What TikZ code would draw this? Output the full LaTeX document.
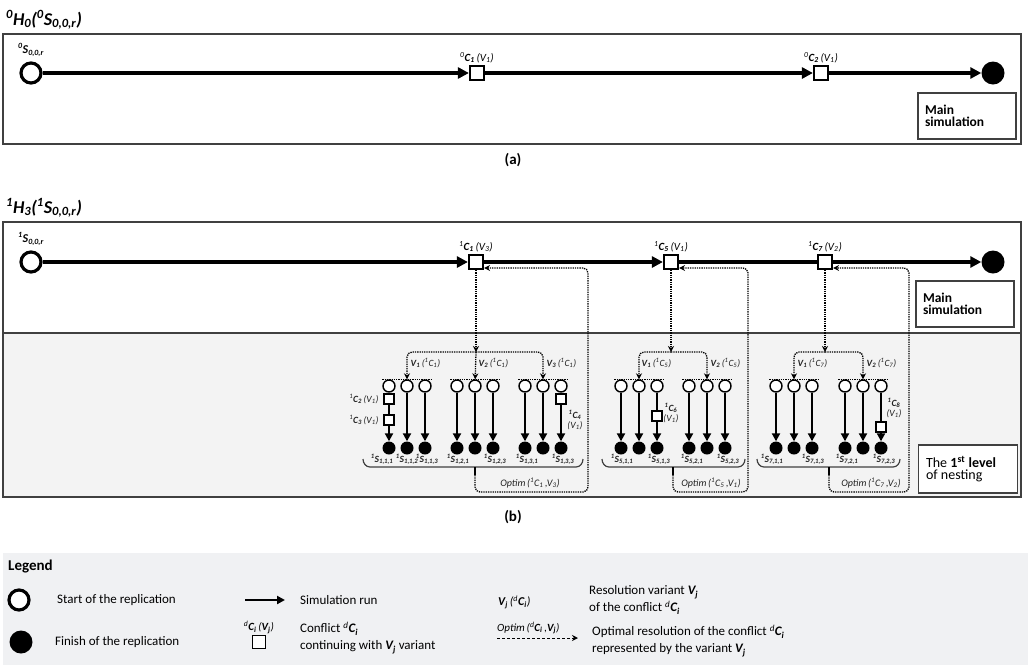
\documentclass[tikz,border=0pt]{standalone}
\usepackage{fontspec}
\setmainfont{Carlito}
\usetikzlibrary{arrows.meta, positioning, calc}
\definecolor{marco}{HTML}{404040}
\definecolor{fondoanid}{HTML}{F3F3F3}
\definecolor{fondoley}{HTML}{F0F1F3}
\definecolor{gristexto}{HTML}{222222}
\newcommand{\conf}[3]{\textsuperscript{#1}\textbf{C\textsubscript{#2}}\,(V\textsubscript{#3})}
\newcommand{\repl}[4]{\textbf{\textsuperscript{#1}S\textsubscript{#2,#3,#4}}}
\newcommand{\vari}[2]{\textbf{V\textsubscript{#1}}\,(\textsuperscript{1}C\textsubscript{#2})}
\newcommand{\optres}[2]{Optim\,(\textsuperscript{1}C\textsubscript{#1}\,,V\textsubscript{#2})}
\tikzset{
  inicio/.style={circle, draw=black, line width=3.2pt, fill=white, minimum size=20pt, inner sep=0pt},
  fin/.style={circle, fill=black, minimum size=23pt, inner sep=0pt},
  conflicto/.style={rectangle, draw=black, line width=2.2pt, fill=white, minimum size=14pt, inner sep=0pt},
  inicioc/.style={circle, draw=black, line width=1.4pt, fill=white, minimum size=12pt, inner sep=0pt},
  finc/.style={circle, fill=black, minimum size=13pt, inner sep=0pt},
  conflictoc/.style={rectangle, draw=black, line width=1.4pt, fill=white, minimum size=10pt, inner sep=0pt},
  corrida/.style={line width=3.4pt, -{Triangle[length=11pt, width=11pt]}},
  corridac/.style={line width=2.5pt, -{Triangle[length=8pt, width=8pt]}},
  tramo/.style={line width=2.5pt},
  punteada/.style={densely dotted, line width=1.3pt},
  optim/.style={densely dotted, line width=1.3pt, -{Stealth[length=6pt, width=6pt]}, rounded corners=5pt},
  llave/.style={line width=1.2pt, draw=marco},
  marcor/.style={draw=marco, line width=1.5pt},
  caja/.style={rectangle, draw=marco, line width=1.3pt, fill=white, align=left, text width=84pt,
               minimum width=98pt, minimum height=46pt, inner sep=6pt},
  etiqg/.style={font=\fontsize{12}{13}\selectfont\itshape, inner sep=1pt},
  etiq/.style={font=\fontsize{11}{12}\selectfont\itshape, inner sep=1pt},
  etiqc/.style={font=\fontsize{9.5}{10.5}\selectfont\itshape, inner sep=0.5pt, text=gristexto},
  ley/.style={font=\fontsize{13}{17}\selectfont, align=left, anchor=west, inner sep=0pt},
  titulo/.style={font=\fontsize{18}{20}\selectfont\bfseries\itshape, anchor=west, inner sep=0pt},
  panel/.style={font=\fontsize{15}{17}\selectfont\bfseries}
}
\begin{document}
\begin{tikzpicture}[x=1pt, y=-1pt]
  \useasboundingbox (0,0) rectangle (1028,665);
  % (a)
  \node (tita) [titulo] at (6,20) {\textsuperscript{0}H\textsubscript{0}(\textsuperscript{0}S\textsubscript{0,0,r})};
  \draw [marcor] (3,34) rectangle (1021,144);
  \node (s0a) [inicio] at (31,73) {};
  \node (c1a) [conflicto] at (477,73) {};
  \node (c2a) [conflicto] at (821,73) {};
  \node (fa) [fin] at (993,73) {};
  \draw [corrida] (s0a) -- (c1a); \draw [corrida] (c1a) -- (c2a); \draw [corrida] (c2a) -- (fa);
  \node [etiqg, above=4pt of s0a] {\textbf{\textsuperscript{0}S\textsubscript{0,0,r}}};
  \node [etiq, above=1pt of c1a] {\conf{0}{1}{1}};
  \node [etiq, above=1pt of c2a] {\conf{0}{2}{1}};
  \node (mainA) [caja] at (967,116) {\fontsize{13.5}{17}\selectfont\bfseries Main\\ simulation};
  \node (pa) [panel] at (513,160) {(a)};
  % (b)
  \node (titb) [titulo] at (6,208) {\textsuperscript{1}H\textsubscript{3}(\textsuperscript{1}S\textsubscript{0,0,r})};
  \fill [fondoanid] (3,333) rectangle (1021,497);
  \draw [marcor] (3,333) -- (1021,333);
  \draw [marcor] (3,222) rectangle (1021,497);
  \node (s0b) [inicio] at (31,262) {};
  \node (c1b) [conflicto] at (476,262) {};
  \node (c5b) [conflicto] at (671,262) {};
  \node (c7b) [conflicto] at (825,262) {};
  \node (fb) [fin] at (993,262) {};
  \draw [corrida] (s0b) -- (c1b); \draw [corrida] (c1b) -- (c5b); \draw [line width=3.4pt] (c5b) -- (c7b); \draw [corrida] (c7b) -- (fb);
  \node [etiqg, above=4pt of s0b] {\textbf{\textsuperscript{1}S\textsubscript{0,0,r}}};
  \node [etiq, above=1pt of c1b] {\conf{1}{1}{3}};
  \node [etiq, above=1pt of c5b] {\conf{1}{5}{1}};
  \node [etiq, above=1pt of c7b] {\conf{1}{7}{2}};
  \node (mainB) [caja] at (965,304) {\fontsize{13.5}{17}\selectfont\bfseries Main\\ simulation};
  \node (nivel) [caja, minimum width=99pt, minimum height=48pt] at (968,469)
        {\fontsize{14}{17}\selectfont The \textbf{1\textsuperscript{st} level}\\ of nesting};
  % replicas anidadas
  \foreach \x/\i/\j/\k in {389/1/1/1, 407/1/1/2, 425/1/1/3, 457/1/2/1, 475/1/2/2, 493/1/2/3,
                           525/1/3/1, 543/1/3/2, 561/1/3/3, 621/5/1/1, 639/5/1/2, 657/5/1/3,
                           689/5/2/1, 707/5/2/2, 725/5/2/3, 776/7/1/1, 794/7/1/2, 812/7/1/3,
                           845/7/2/1, 863/7/2/2, 881/7/2/3} {
    \node (ini\i\j\k) [inicioc] at (\x,386) {};
    \node (fin\i\j\k) [finc] at (\x,448) {};
  }
  \foreach \n in {112, 113, 121, 122, 123, 131, 132, 511, 512, 521, 522, 523, 711, 712, 713, 721, 722}
    \draw [corridac] (ini\n) -- (fin\n);
  \foreach \g in {11, 12, 13, 51, 52, 71, 72}
    \draw [punteada] (ini\g1.west |- ini\g1.north) -- (ini\g3.east |- ini\g3.north);
  \foreach \i/\j/\k/\dx in {1/1/1/-7, 1/1/2/0, 1/1/3/2, 1/2/1/1, 1/2/3/2, 1/3/1/2, 1/3/3/2,
                            5/1/1/1, 5/1/3/2, 5/2/1/3, 5/2/3/3, 7/1/1/-4, 7/1/3/1, 7/2/1/2, 7/2/3/3}
    \node [etiqc] at ($(fin\i\j\k)+(\dx,11)$) {\repl{1}{\i}{\j}{\k}};
  % conflictos anidados
  \node (q2) [conflictoc] at (389,399) {};
  \node (q3) [conflictoc] at (389,420) {};
  \draw [tramo] (ini111) -- (q2); \draw [tramo] (q2) -- (q3); \draw [corridac] (q3) -- (fin111);
  \node [etiqc, left=4pt of q2] {\conf{1}{2}{1}};
  \node [etiqc, left=4pt of q3] {\conf{1}{3}{1}};
  \node (q4) [conflictoc] at (561,399) {};
  \draw [tramo] (ini133) -- (q4); \draw [corridac] (q4) -- (fin133);
  \node [etiqc, align=center] at (575,420) {\textbf{\textsuperscript{1}C\textsubscript{4}}\\(V\textsubscript{1})};
  \node (q6) [conflictoc] at (657,416) {};
  \draw [tramo] (ini513) -- (q6); \draw [corridac] (q6) -- (fin513);
  \node [etiqc, align=center] at (671,413) {\textbf{\textsuperscript{1}C\textsubscript{6}}\\(V\textsubscript{1})};
  \node (q8) [conflictoc] at (881,427) {};
  \draw [tramo] (ini723) -- (q8); \draw [corridac] (q8) -- (fin723);
  \node [etiqc, align=center] at (894,408) {\textbf{\textsuperscript{1}C\textsubscript{8}}\\(V\textsubscript{1})};
  % variantes
  \coordinate (k1) at (476,352);
  \coordinate (k5) at (671,352);
  \coordinate (k7) at (825,352);
  \draw [optim] (c1b) -- (k1);
  \draw [optim] (k1) -| (ini112); \draw [optim] (k1) -- (ini122); \draw [optim] (k1) -| (ini132);
  \draw [optim] (c5b) -- (k5);
  \draw [optim] (k5) -| (ini512); \draw [optim] (k5) -| (ini522);
  \draw [optim] (c7b) -- (k7);
  \draw [optim] (k7) -| (ini712); \draw [optim] (k7) -| (ini722);
  \node [etiqc, anchor=west] at (410,363) {\vari{1}{1}};
  \node [etiqc, anchor=west] at (478,363) {\vari{2}{1}};
  \node [etiqc, anchor=west] at (546,363) {\vari{3}{1}};
  \node [etiqc, anchor=west] at (641,363) {\vari{1}{5}};
  \node [etiqc, anchor=west] at (710,363) {\vari{2}{5}};
  \node [etiqc, anchor=west] at (797,363) {\vari{1}{7}};
  \node [etiqc, anchor=west] at (866,363) {\vari{2}{7}};
  % llaves y optimos
  \draw [llave] (363,459) to[out=-90,in=180] (370,467) -- (576,467) to[out=0,in=-90] (583,459);
  \draw [llave] (602,459) to[out=-90,in=180] (609,467) -- (738,467) to[out=0,in=-90] (745,459);
  \draw [llave] (757,459) to[out=-90,in=180] (764,467) -- (893,467) to[out=0,in=-90] (900,459);
  \coordinate (t1) at (475,467); \coordinate (r1) at (588,268);
  \coordinate (t5) at (673,467); \coordinate (r5) at (748,268);
  \coordinate (t7) at (829,467); \coordinate (r7) at (909,268);
  \draw [line width=2pt] (t1) -- ++(0,8) coordinate (t1b);
  \draw [line width=2pt] (t5) -- ++(0,8) coordinate (t5b);
  \draw [line width=2pt] (t7) -- ++(0,8) coordinate (t7b);
  \draw [optim] (t1b) |- (r1 |- 0,492) -- (r1) -- (r1 -| c1b.east);
  \draw [optim] (t5b) |- (r5 |- 0,492) -- (r5) -- (r5 -| c5b.east);
  \draw [optim] (t7b) |- (r7 |- 0,492) -- (r7) -- (r7 -| c7b.east);
  \node [etiqc, font=\fontsize{10}{11}\selectfont\itshape] at (530,483) {\optres{1}{3}};
  \node [etiqc, font=\fontsize{10}{11}\selectfont\itshape] at (711,483) {\optres{5}{1}};
  \node [etiqc, font=\fontsize{10}{11}\selectfont\itshape] at (871,483) {\optres{7}{2}};
  \node (pb) [panel] at (513,517) {(b)};
  % leyenda
  \fill [fondoley] (3,553) rectangle (1028,665);
  \node (tley) [ley, font=\fontsize{15}{17}\selectfont\bfseries] at (8,566) {Legend};
  \node (lini) [inicio] at (19,600) {};
  \node [ley] at (57,600) {Start of the replication};
  \node (lfin) [fin] at (21,642) {};
  \node [ley] at (55,642) {Finish of the replication};
  \coordinate (la1) at (245,600); \coordinate (la2) at (285,600);
  \draw [line width=2.2pt, -{Triangle[length=8pt, width=8pt]}] (la1) -- (la2);
  \node [ley] at (300,600) {Simulation run};
  \node (lconf) [conflicto, line width=1.8pt, minimum size=13pt] at (259,642) {};
  \node [etiq, above=0pt of lconf] {\textsuperscript{d}\textbf{C\textsubscript{i}}\,(\textbf{V\textsubscript{j}})};
  \node [ley] at (300,638) {Conflict \textsuperscript{\itshape d}\textbf{\itshape C\textsubscript{i}}\\ continuing with \textbf{\itshape V\textsubscript{j}} variant};
  \node [etiqg, anchor=west] at (497,602) {\textbf{V\textsubscript{j}}\,(\textsuperscript{d}\textbf{C\textsubscript{i}})};
  \node [ley] at (589,600) {Resolution variant \textbf{\itshape V\textsubscript{j}}\\ of the conflict \textsuperscript{\itshape d}\textbf{\itshape C\textsubscript{i}}};
  \node [etiq, anchor=west] at (496,628) {Optim\,(\textsuperscript{d}\textbf{C\textsubscript{i}}\,,\textbf{V\textsubscript{j}})};
  \coordinate (lo1) at (497,638); \coordinate (lo2) at (578,638);
  \draw [densely dashed, line width=1pt, -{Stealth[length=6pt, width=6pt]}] (lo1) -- (lo2);
  \node [ley] at (592,641) {Optimal resolution of the conflict \textsuperscript{\itshape d}\textbf{\itshape C\textsubscript{i}}\\ represented by the variant \textbf{\itshape V\textsubscript{j}}};
\end{tikzpicture}
\end{document}
